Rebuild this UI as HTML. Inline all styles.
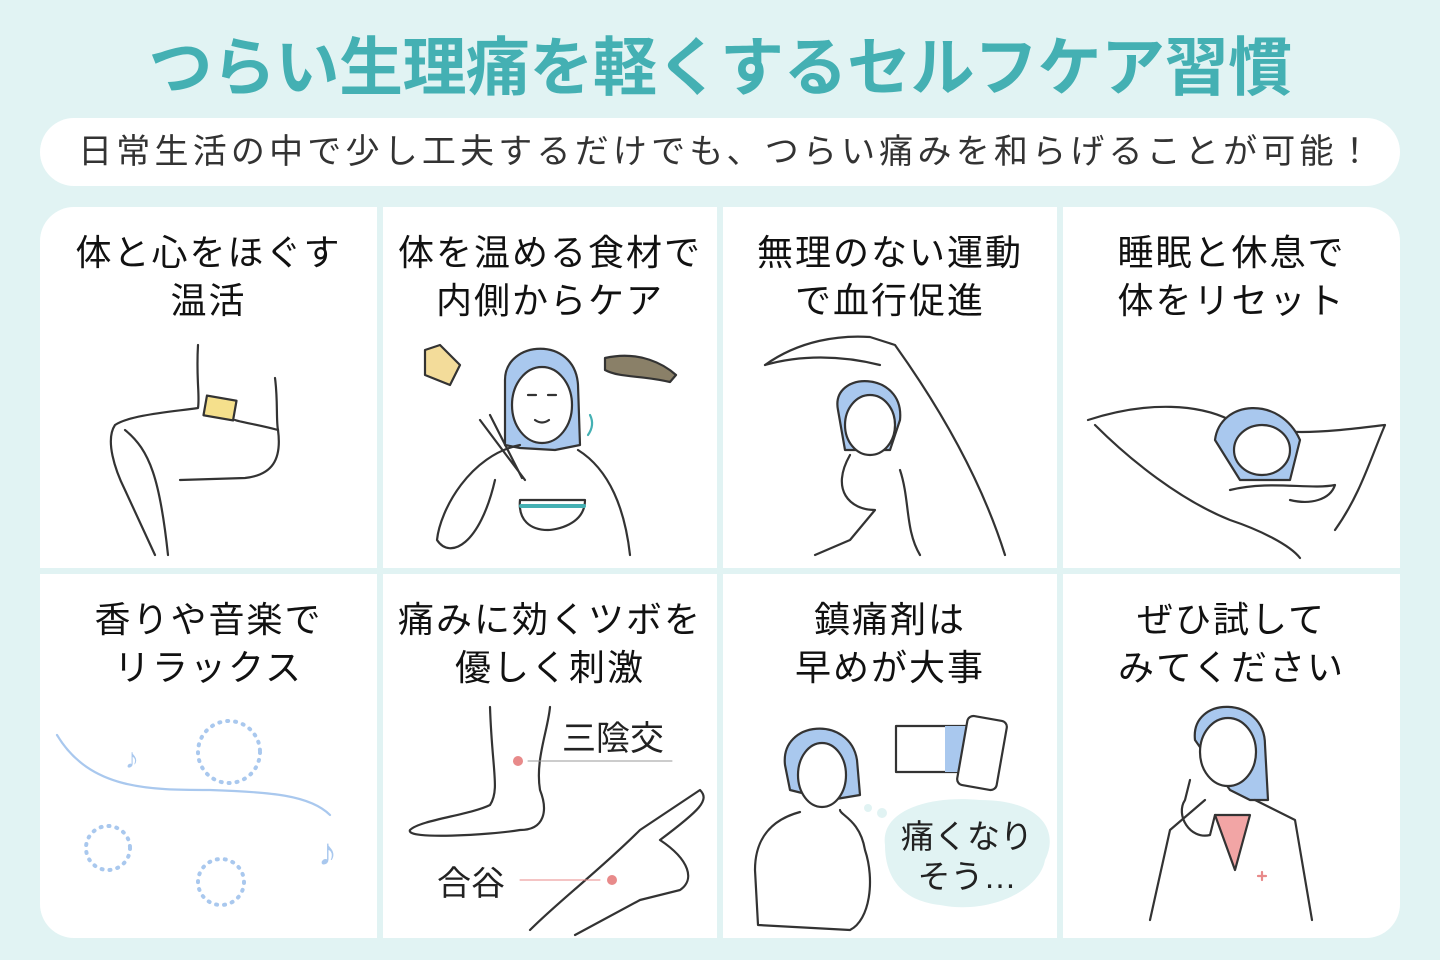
<!DOCTYPE html>
<html><head><meta charset="utf-8"><style>
*{margin:0;padding:0;box-sizing:border-box}
body{width:1440px;height:960px;background:#e1f3f3;position:relative;overflow:hidden;font-family:"Liberation Sans","Noto Sans CJK JP",sans-serif}
.title{position:absolute;left:0;top:28px;width:1440px;text-align:center;font-size:64px;font-weight:bold;color:#44b0b3;letter-spacing:-0.5px;line-height:80px}
.sub{position:absolute;left:40px;top:118px;width:1360px;height:68px;background:#fff;border-radius:34px;text-align:center;font-size:34px;line-height:68px;color:#333;letter-spacing:4.2px;padding-left:14px}
.grid{position:absolute;left:40px;top:207px;width:1360px;height:731px;border-radius:34px;overflow:hidden;background:#e1f3f3}
.c{position:absolute;background:#fff}
.t{position:absolute;left:0;width:100%;top:22px;text-align:center;font-size:36px;line-height:48px;color:#111;letter-spacing:2px}
svg{position:absolute;left:0;top:0}
</style></head><body>
<div class="title">つらい生理痛を軽くするセルフケア習慣</div>
<div class="sub">日常生活の中で少し工夫するだけでも、つらい痛みを和らげることが可能！</div>
<div class="grid">
<div class="c" style="left:0;top:0;width:337px;height:361px"><div class="t">体と心をほぐす<br>温活</div></div>
<div class="c" style="left:343px;top:0;width:334px;height:361px"><div class="t">体を温める食材で<br>内側からケア</div></div>
<div class="c" style="left:683px;top:0;width:334px;height:361px"><div class="t">無理のない運動<br>で血行促進</div></div>
<div class="c" style="left:1023px;top:0;width:337px;height:361px"><div class="t">睡眠と休息で<br>体をリセット</div></div>
<div class="c" style="left:0;top:367px;width:337px;height:364px"><div class="t">香りや音楽で<br>リラックス</div></div>
<div class="c" style="left:343px;top:367px;width:334px;height:364px"><div class="t">痛みに効くツボを<br>優しく刺激</div></div>
<div class="c" style="left:683px;top:367px;width:334px;height:364px"><div class="t">鎮痛剤は<br>早めが大事</div></div>
<div class="c" style="left:1023px;top:367px;width:337px;height:364px"><div class="t">ぜひ試して<br>みてください</div></div>
</div>
<svg width="1440" height="960" fill="none" stroke="#333" stroke-width="2.2" stroke-linecap="round" stroke-linejoin="round">
<path d="M198 345 C196 380 200 395 198 408 C170 412 130 415 115 425 C105 440 115 470 125 490 L155 555"/>
<path d="M125 430 C150 450 160 480 168 555"/>
<path d="M275 378 C278 400 276 420 278 430 C260 425 240 422 235 420"/>
<path d="M278 430 C282 460 272 475 245 478 L180 480"/>
<rect x="205" y="398" width="30" height="20" fill="#f5e08c" transform="rotate(10 220 408)"/>
<path d="M505 380 C505 340 575 335 578 385 L580 445 L555 450 L520 448 L505 445 Z" fill="#a9c8ee" stroke="#333"/>
<ellipse cx="542" cy="405" rx="30" ry="38" fill="#fff"/>
<path d="M528 395 h8 M548 395 h8 M535 420 q7 5 14 0"/>
<path d="M520 445 C470 455 440 510 437 540 C450 560 480 545 495 480"/>
<path d="M578 450 C610 470 625 510 630 555"/>
<path d="M480 420 L525 480 M490 415 L522 478"/>
<path d="M520 500 h65 C585 525 555 530 548 530 C530 530 518 520 520 500Z"/>
<path d="M521 506 h63" stroke="#44b0b3" stroke-width="4"/>
<path d="M590 415 q5 10 -2 20" stroke="#44b0b3"/>
<path d="M425 350 l15 -5 l20 20 l-10 20 l-25 -10 z" fill="#f3dc9a"/>
<path d="M605 358 C640 350 665 365 676 375 L670 382 C640 375 620 378 605 370Z" fill="#8a8068" stroke="#333"/>
<path d="M765 365 C800 340 840 335 870 337 L895 345 C920 380 975 460 1005 555"/>
<path d="M765 365 C800 355 840 355 880 365"/>
<path d="M838 410 C830 370 905 370 900 420 L890 450 L845 450Z" fill="#a9c8ee"/>
<ellipse cx="870" cy="425" rx="25" ry="30" fill="#fff"/>
<path d="M850 455 C830 490 850 510 875 510 L850 540 L815 555"/>
<path d="M900 470 C910 500 905 530 920 555"/>
<path d="M1088 420 C1150 400 1200 405 1230 420 C1280 440 1340 430 1385 425 C1370 460 1360 495 1335 530"/>
<path d="M1095 425 C1130 460 1180 500 1230 520 C1260 530 1290 545 1300 558"/>
<path d="M1215 440 C1220 400 1280 395 1300 440 L1290 480 L1240 480Z" fill="#a9c8ee"/>
<ellipse cx="1262" cy="450" rx="28" ry="25" fill="#fff"/>
<path d="M1230 490 C1270 480 1310 490 1335 485 C1330 500 1310 505 1290 500"/>
<path d="M57 735 C90 790 150 790 210 790 C270 792 310 795 330 815" stroke="#a9c8ee"/>
<g stroke="#a9c8ee" stroke-width="4" stroke-dasharray="1 7"><circle cx="229" cy="752" r="31"/><circle cx="108" cy="848" r="22"/><circle cx="221" cy="882" r="23"/></g>
<text x="125" y="768" font-size="28" fill="#a9c8ee" stroke="none">♪</text>
<text x="318" y="865" font-size="38" fill="#a9c8ee" stroke="none">♪</text>
<path d="M490 707 C492 770 500 790 490 805 C470 815 420 820 410 830 C405 840 490 835 520 830 C545 830 548 810 540 790 C535 760 548 730 550 707"/>
<path d="M530 930 C560 900 600 870 640 830 L700 790 C710 800 700 810 660 840 C690 860 695 880 680 890 L640 900 L575 935"/>
<circle cx="518" cy="761" r="5" fill="#e88a8a" stroke="none"/>
<path d="M528 761 H672" stroke="#999" stroke-width="1"/>
<circle cx="612" cy="880" r="5" fill="#e88a8a" stroke="none"/>
<path d="M520 880 H600" stroke="#e88a8a" stroke-width="1"/>
<text x="562" y="750" font-size="34" fill="#222" stroke="none" font-family="Liberation Sans,Noto Sans CJK JP,sans-serif">三陰交</text>
<text x="437" y="895" font-size="34" fill="#222" stroke="none" font-family="Liberation Sans,Noto Sans CJK JP,sans-serif">合谷</text>
<path d="M785 765 C780 720 850 715 857 760 L860 795 L830 800 L790 790Z" fill="#a9c8ee"/>
<ellipse cx="822" cy="775" rx="24" ry="32" fill="#fff"/>
<path d="M800 812 C770 820 755 840 755 870 L758 925 L850 930 C870 920 875 880 865 850 C860 820 840 815 840 810"/>
<rect x="896" y="726" width="70" height="46" fill="#fff"/>
<rect x="945" y="726" width="21" height="46" fill="#a9c8ee" stroke="none"/>
<rect x="962" y="718" width="40" height="70" rx="6" fill="#fff" transform="rotate(10 982 753)"/>
<path d="M885 845 C880 810 930 795 980 800 C1040 800 1060 830 1045 860 C1040 890 990 915 940 905 C895 900 885 870 885 845Z" fill="#e1f3f3" stroke="none"/>
<text x="967" y="848" font-size="33" fill="#222" stroke="none" text-anchor="middle" font-family="Liberation Sans,Noto Sans CJK JP,sans-serif">痛くなり</text>
<text x="967" y="888" font-size="33" fill="#222" stroke="none" text-anchor="middle" font-family="Liberation Sans,Noto Sans CJK JP,sans-serif">そう…</text>
<circle cx="868" cy="808" r="4" fill="#e1f3f3" stroke="none"/><circle cx="882" cy="813" r="5" fill="#e1f3f3" stroke="none"/>
<path d="M1195 740 C1190 695 1265 695 1265 745 L1268 800 L1250 800 L1230 790Z" fill="#a9c8ee"/>
<ellipse cx="1228" cy="752" rx="28" ry="34" fill="#fff"/>
<path d="M1205 800 L1170 830 L1150 920 M1255 800 L1295 820 L1312 920"/>
<path d="M1215 815 L1235 870 L1250 815Z" fill="#f2a5a5"/>
<path d="M1190 780 L1185 800 C1175 815 1190 840 1210 835 L1215 815"/>
<path d="M1258 876 h8 M1262 872 v8" stroke="#e88a8a"/>
</svg>
</body></html>
